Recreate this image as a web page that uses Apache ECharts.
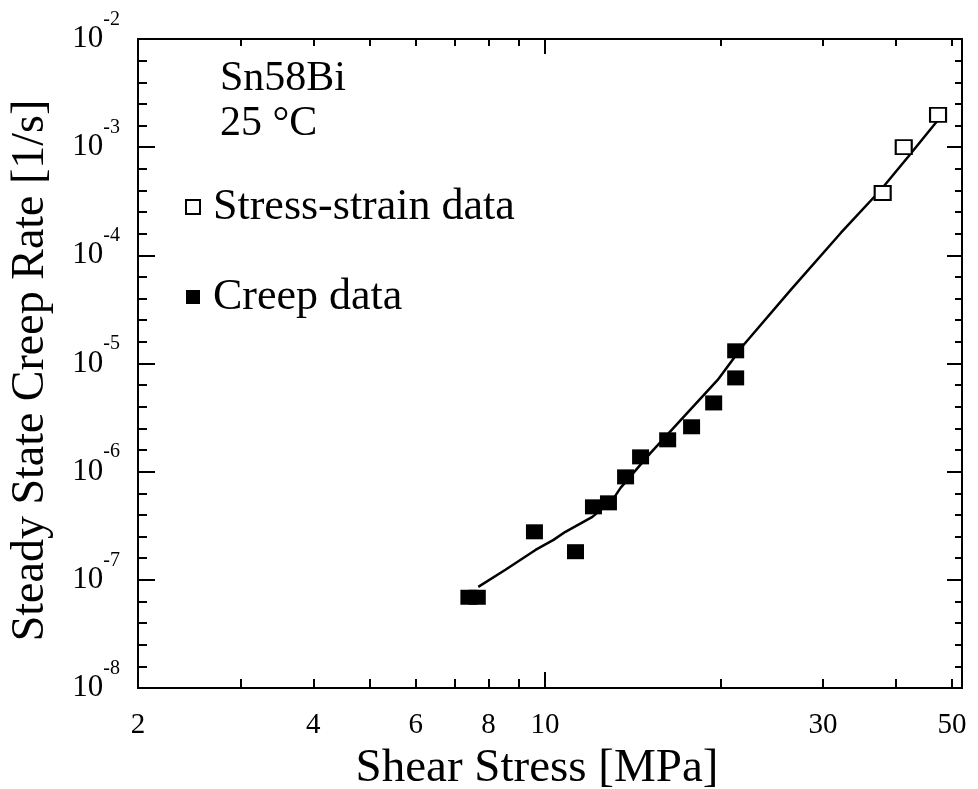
<!DOCTYPE html>
<html><head><meta charset="utf-8">
<script src="https://cdn.jsdelivr.net/npm/echarts@6/dist/echarts.min.js"></script>
<style>html,body{margin:0;padding:0;background:#fff}#c{width:978px;height:789px}</style>
</head><body><div id="c"></div>
<script>
// ---- data ----
const creepStress = [7.40, 7.65, 9.59, 11.28, 12.11, 12.85, 13.75, 14.59, 16.24, 17.85, 19.48, 21.25, 21.25];
const creepRate   = [6.9e-8, 6.9e-8, 2.78e-7, 1.82e-7, 4.73e-7, 5.15e-7, 8.95e-7, 1.37e-6, 1.97e-6, 2.6e-6, 4.32e-6, 7.36e-6, 1.31e-5];
const ssStress = [38.0, 41.3, 47.3];
const ssRate   = [3.77e-4, 1.0e-3, 1.99e-3];
const fitStress = [7.68, 8.55, 9.63, 10.34, 10.84, 12.06, 13.06, 13.48, 15.18, 17.30, 19.79, 21.94, 26.42, 32.2, 37.7, 42.0, 47.3];
const fitRate   = [8.61e-8, 1.24e-7, 1.89e-7, 2.34e-7, 2.78e-7, 3.82e-7, 5.48e-7, 7.08e-7, 1.49e-6, 3.21e-6, 7.05e-6, 1.49e-5, 4.79e-5, 1.61e-4, 4.02e-4, 8.11e-4, 1.78e-3];

// ---- axis ticks & labels ----
const xLabelValues = [2, 4, 6, 8, 10, 30, 50];
const xMinorTicks = [3, 4, 5, 6, 7, 8, 9, 20, 30, 40, 50];
const xMajorTicks = [10];
const yDecades = [1e-8, 1e-7, 1e-6, 1e-5, 1e-4, 1e-3, 1e-2];
const yExponents = ['-8', '-7', '-6', '-5', '-4', '-3', '-2'];
const ySubdivisions = [0.2, 0.4, 0.6, 0.8];
const yMinorTicks = [];
for (let e = -8; e < -2; e++) ySubdivisions.forEach(f => yMinorTicks.push(Math.pow(10, e + f)));

const FONT = "'Liberation Serif', 'Times New Roman', serif";
const X_MIN = 2, X_MAX = 52, Y_MIN = 1e-8, Y_MAX = 1e-2;

function zip(a, b) { return a.map((v, i) => [v, b[i]]); }

const lineStyle = { color: '#000', width: 2 };
function xAx(position, tickLen, ticks, extra) {
  return Object.assign({
    type: 'log', min: X_MIN, max: X_MAX, position: position, gridIndex: 0,
    axisLine: { show: true, lineStyle: lineStyle },
    axisTick: { show: true, inside: true, length: tickLen, customValues: ticks, lineStyle: lineStyle },
    axisLabel: { show: false },
    splitLine: { show: false }, minorTick: { show: false }
  }, extra || {});
}
function yAx(position, tickLen, ticks, extra) {
  return Object.assign({
    type: 'log', min: Y_MIN, max: Y_MAX, position: position, gridIndex: 0,
    axisLine: { show: true, lineStyle: lineStyle },
    axisTick: { show: true, inside: true, length: tickLen, customValues: ticks, lineStyle: lineStyle },
    axisLabel: { show: false },
    splitLine: { show: false }, minorTick: { show: false }
  }, extra || {});
}

const chart = echarts.init(document.getElementById('c'), null, { renderer: 'canvas' });
chart.setOption({
  backgroundColor: '#fff',
  animation: false,
  textStyle: { fontFamily: FONT, color: '#000' },
  grid: { left: 138, top: 39, right: 16, bottom: 101, containLabel: false, outerBoundsMode: 'none' },
  title: {
    text: 'Sn58Bi\n25 °C', left: 220, top: 56, padding: 0,
    textStyle: { fontFamily: FONT, fontSize: 42, fontWeight: 'normal', color: '#000', lineHeight: 45 }
  },
  legend: {
    data: ['Stress-strain data', 'Creep data'], orient: 'vertical', left: 185, top: 185, padding: 0,
    itemWidth: 14, itemHeight: 14, itemGap: 46, icon: 'rect',
    textStyle: { fontFamily: FONT, fontSize: 44, color: '#000', lineHeight: 44, padding: [0, 0, 0, 8] }
  },
  xAxis: [
    xAx('bottom', 9, xMinorTicks, {
      name: 'Shear Stress [MPa]', nameLocation: 'middle', nameGap: 50,
      nameTextStyle: { fontFamily: FONT, fontSize: 47, color: '#000', padding: [0, 26, 0, 0] },
      axisLabel: { show: true, customValues: xLabelValues, fontFamily: FONT, fontSize: 29, color: '#000', margin: 23 }
    }),
    xAx('bottom', 16, xMajorTicks),
    xAx('top', 7, xMinorTicks.concat([2])),
    xAx('top', 15, xMajorTicks)
  ],
  yAxis: [
    yAx('left', 17, yDecades, {
      name: 'Steady State Creep Rate [1/s]', nameLocation: 'middle', nameGap: 84,
      nameTextStyle: { fontFamily: FONT, fontSize: 46, color: '#000', padding: [0, 14, 0, 0] },
      axisLabel: {
        show: true, customValues: yDecades, margin: 18, fontFamily: FONT, fontSize: 31, color: '#000',
        formatter: function (v) {
          let best = 0;
          yDecades.forEach((d, i) => { if (Math.abs(Math.log10(d) - Math.log10(v)) < Math.abs(Math.log10(yDecades[best]) - Math.log10(v))) best = i; });
          return '{b|10}{s|' + yExponents[best] + '}';
        },
        rich: {
          b: { fontFamily: FONT, fontSize: 31, lineHeight: 59, verticalAlign: 'middle', color: '#000' },
          s: { fontFamily: FONT, fontSize: 20, lineHeight: 20, verticalAlign: 'top', color: '#000' }
        }
      }
    }),
    yAx('left', 9, yMinorTicks),
    yAx('right', 15, yDecades),
    yAx('right', 7, yMinorTicks)
  ],
  series: [
    {
      name: 'Fit', type: 'line', xAxisIndex: 0, yAxisIndex: 0, data: zip(fitStress, fitRate),
      showSymbol: false, symbol: 'none', lineStyle: { color: '#000', width: 2.5 }, z: 2, silent: true
    },
    {
      name: 'Creep data', type: 'scatter', xAxisIndex: 0, yAxisIndex: 0, data: zip(creepStress, creepRate),
      symbol: 'rect', symbolSize: [17, 15], itemStyle: { color: '#000', opacity: 1 }, z: 3
    },
    {
      name: 'Stress-strain data', type: 'scatter', xAxisIndex: 0, yAxisIndex: 0, data: zip(ssStress, ssRate),
      symbol: 'rect', symbolSize: [16, 14], itemStyle: { color: '#fff', borderColor: '#000', borderWidth: 2, opacity: 1 }, z: 4
    }
  ]
});
</script></body></html>
